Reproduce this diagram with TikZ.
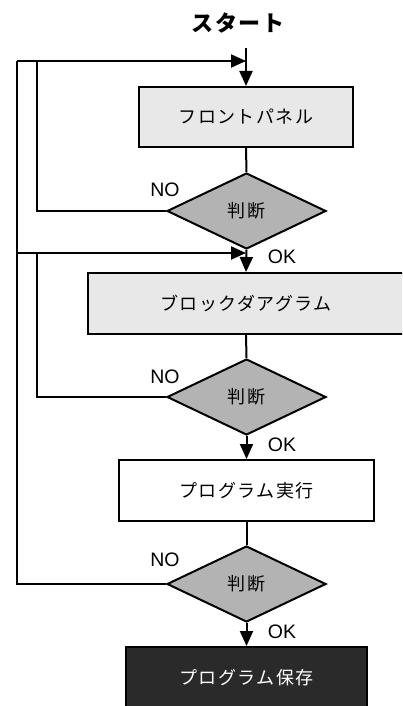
\documentclass[tikz,border=0pt]{standalone}
\usepackage{fontspec}
\setmainfont{Liberation Sans}
\newfontfamily\jp{Noto Sans CJK JP}[LetterSpace=8]
\usetikzlibrary{shapes.geometric,arrows.meta}
\definecolor{lightg}{HTML}{E8E8E8}
\definecolor{diagray}{HTML}{B3B3B3}
\definecolor{darkg}{HTML}{2A2A2A}
\begin{document}
\begin{tikzpicture}[x=1pt,y=-1pt,line width=2pt,
  box/.style={draw,rectangle,inner sep=0pt,font=\jp\fontsize{18pt}{20pt}\selectfont},
  dia/.style={draw,diamond,fill=diagray,minimum width=159pt,minimum height=76pt,inner sep=0pt,font=\jp\fontsize{18pt}{20pt}\selectfont},
  arr/.style={-{Triangle[length=15pt,width=13pt]}},
  lab/.style={inner sep=0pt,font=\fontsize{19.5pt}{22pt}\selectfont}]
\useasboundingbox (0,0) rectangle (402,706);
\clip (0,0) rectangle (402,706);
\node[inner sep=0pt,font=\jp\bfseries\fontsize{22pt}{24pt}\selectfont] (start) at (238,23) {スタート};
\coordinate (s) at (246,48);
\node[box,fill=lightg,minimum width=214pt,minimum height=60pt] (b1) at (246,117) {フロントパネル};
\node[dia] (d1) at (246.5,211) {判断};
\node[box,fill=lightg,minimum width=316pt,minimum height=61pt] (b2) at (246,303.5) {ブロックダアグラム};
\node[dia] (d2) at (246.5,397) {判断};
\node[box,fill=white,minimum width=255pt,minimum height=61pt] (b3) at (246.5,490.5) {プログラム実行};
\node[dia] (d3) at (246.5,584) {判断};
\node[box,fill=darkg,text=white,minimum width=241pt,minimum height=61pt] (b4) at (246.5,677.5) {プログラム保存};
\coordinate (j1) at (246,61);
\coordinate (j2) at (246,253);
\coordinate (i1) at (37,61);
\coordinate (i2) at (37,253);
\coordinate (o1) at (17,61);
\coordinate (o2) at (17,253);
\draw[arr] (s) -- (b1.north);
\draw (b1.south) -- (d1.north);
\draw[arr] (d1.south) -- (b2.north);
\draw (b2.south) -- (d2.north);
\draw[arr] (d2.south) -- (b3.north);
\draw (b3.south) -- (d3.north);
\draw[arr] (d3.south) -- (b4.north);
\draw (d1.west) -| (i1);
\draw (d2.west) -| (i2);
\draw (d3.west) -| (o1);
\draw[arr] (o1) -- (j1);
\draw[arr] (o2) -- (j2);
\node[lab] (no1) at (165,190) {NO};
\node[lab] (no2) at (165,377) {NO};
\node[lab] (no3) at (165,560) {NO};
\node[lab] (ok1) at (282,257) {OK};
\node[lab] (ok2) at (282,445) {OK};
\node[lab] (ok3) at (282,632) {OK};
\end{tikzpicture}
\end{document}
